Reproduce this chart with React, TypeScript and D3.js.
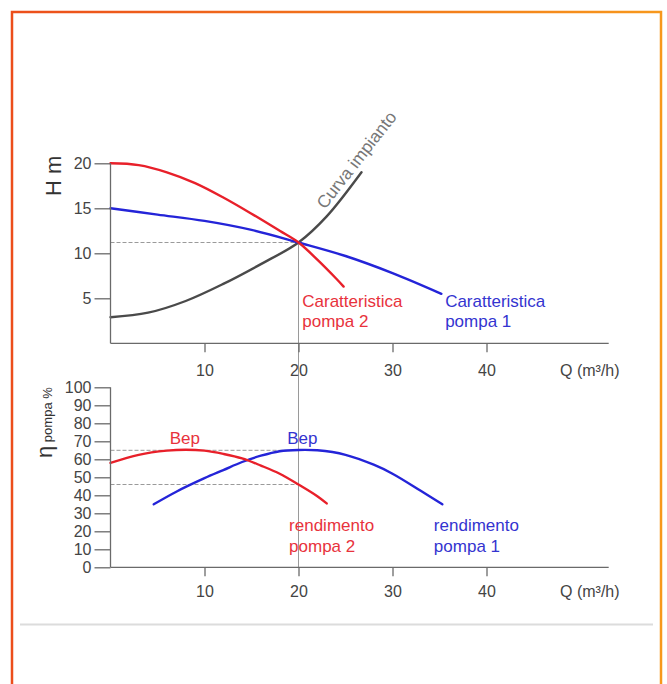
import React, { useEffect, useRef } from "react";
import * as d3 from "d3";

type Pt = [number, number];

// axis ticks
const flowTicks = [10, 20, 30, 40];
const headTicks = [5, 10, 15, 20];
const effTicks = [0, 10, 20, 30, 40, 50, 60, 70, 80, 90, 100];

// H-Q curves (Q m3/h, H m)
const pump2Head: Pt[] = [
  [0, 20], [3, 19.8], [6, 19.0], [9, 17.8], [12, 16.2], [15, 14.4],
  [18, 12.5], [20, 11.2], [22, 9.3], [24, 7.2], [24.8, 6.3],
];
const pump1Head: Pt[] = [
  [0, 15], [5, 14.3], [10, 13.6], [15, 12.6], [20, 11.2], [25, 9.7],
  [30, 7.8], [35.2, 5.5],
];
const systemCurve: Pt[] = [
  [0, 2.9], [4, 3.4], [8, 4.7], [12, 6.6], [16, 8.8], [20, 11.2],
  [23, 14.1], [26.7, 19],
];

// efficiency curves (Q m3/h, eta %)
const pump2Eff: Pt[] = [
  [0, 58], [3, 62.5], [6, 64.8], [8, 65.3], [10, 64.8], [12, 63],
  [14, 60.5], [16, 56.5], [18, 52], [20, 46], [22, 39.5], [23, 35.5],
];
const pump1Eff: Pt[] = [
  [4.6, 35], [7, 42], [10, 49.5], [12, 54], [14, 58.5], [16, 62],
  [18, 64.5], [20, 65.2], [22, 65], [25, 62.5], [28, 57], [30, 52],
  [33, 42.5], [35.3, 35],
];

const operatingQ = 20;
const operatingH = 11.2;
const bepEff = 65;
const pump2EffAtQ = 46;

const RED = "#e8202a";
const BLUE = "#2424d8";
const GRAY = "#4a4a4a";
const FONT = "Liberation Sans, Arial, sans-serif";

const W = 667;
const H = 684;

const App: React.FC = () => {
  const svgRef = useRef<SVGSVGElement>(null);

  useEffect(() => {
    if (!svgRef.current) return;
    const svg = d3.select(svgRef.current);
    svg.selectAll("*").remove();

    // frame
    const defs = svg.append("defs");
    const grad = defs
      .append("linearGradient")
      .attr("id", "frameGrad")
      .attr("x1", "0")
      .attr("x2", "1")
      .attr("y1", "0")
      .attr("y2", "0");
    grad.append("stop").attr("offset", "0").attr("stop-color", "#ec4e1b");
    grad.append("stop").attr("offset", "1").attr("stop-color", "#f7981c");
    svg
      .append("rect")
      .attr("x", 12)
      .attr("y", 12)
      .attr("width", 649)
      .attr("height", 700)
      .attr("fill", "none")
      .attr("stroke", "url(#frameGrad)")
      .attr("stroke-width", 2.5);
    svg
      .append("line")
      .attr("x1", 20)
      .attr("x2", 653)
      .attr("y1", 624.5)
      .attr("y2", 624.5)
      .attr("stroke", "#dcdcdc")
      .attr("stroke-width", 2);

    // scales
    const x = d3.scaleLinear().domain([0, 53]).range([110.5, 608.7]);
    const yH = d3.scaleLinear().domain([0, 20]).range([343.3, 163.3]);
    const yE = d3.scaleLinear().domain([0, 100]).range([567.3, 387.3]);

    // reference lines
    const guide = svg.append("g").attr("stroke", "#9a9a9a").attr("stroke-width", 1);
    [
      [yH(operatingH)],
      [yE(bepEff)],
      [yE(pump2EffAtQ)],
    ].forEach(([yy]) => {
      guide
        .append("line")
        .attr("x1", x(0))
        .attr("x2", x(operatingQ))
        .attr("y1", yy)
        .attr("y2", yy)
        .attr("stroke-dasharray", "4,2");
    });
    guide
      .append("line")
      .attr("x1", x(operatingQ))
      .attr("x2", x(operatingQ))
      .attr("y1", yH(operatingH))
      .attr("y2", yE(0));

    // curves
    const lineH = d3
      .line<Pt>()
      .x((d) => x(d[0]))
      .y((d) => yH(d[1]))
      .curve(d3.curveCatmullRom.alpha(0.5));
    const lineE = d3
      .line<Pt>()
      .x((d) => x(d[0]))
      .y((d) => yE(d[1]))
      .curve(d3.curveCatmullRom.alpha(0.5));

    const curves: [Pt[], string, typeof lineH][] = [
      [systemCurve, GRAY, lineH],
      [pump1Head, BLUE, lineH],
      [pump2Head, RED, lineH],
      [pump1Eff, BLUE, lineE],
      [pump2Eff, RED, lineE],
    ];
    curves.forEach(([data, color, gen]) => {
      svg
        .append("path")
        .attr("d", gen(data) || "")
        .attr("fill", "none")
        .attr("stroke", color)
        .attr("stroke-width", 2.4)
        .attr("stroke-linecap", "round");
    });

    // axes
    const styleAxis = (g: d3.Selection<SVGGElement, unknown, null, undefined>) => {
      g.select(".domain").remove();
      g.selectAll(".tick line").attr("stroke", "#6a6a6a").attr("stroke-width", 1.3);
      g.selectAll("text")
        .attr("fill", "#444")
        .attr("font-size", "16px")
        .attr("font-family", FONT);
    };

    const axisLines = svg.append("g").attr("stroke", "#6a6a6a").attr("stroke-width", 1.3);
    axisLines
      .append("line")
      .attr("x1", x(0))
      .attr("x2", x(0))
      .attr("y1", yH(20))
      .attr("y2", yH(0));
    axisLines
      .append("line")
      .attr("x1", x(0))
      .attr("x2", x(53))
      .attr("y1", yH(0))
      .attr("y2", yH(0));
    axisLines
      .append("line")
      .attr("x1", x(0))
      .attr("x2", x(0))
      .attr("y1", yE(100))
      .attr("y2", yE(0));
    axisLines
      .append("line")
      .attr("x1", x(0))
      .attr("x2", x(53))
      .attr("y1", yE(0))
      .attr("y2", yE(0));

    svg
      .append("g")
      .attr("transform", `translate(${x(0)},0)`)
      .call(d3.axisLeft(yH).tickValues(headTicks).tickSize(16).tickPadding(3))
      .call(styleAxis);
    svg
      .append("g")
      .attr("transform", `translate(0,${yH(0)})`)
      .call(d3.axisBottom(x).tickValues(flowTicks).tickSize(9).tickPadding(12))
      .call(styleAxis);
    svg
      .append("g")
      .attr("transform", `translate(${x(0)},0)`)
      .call(d3.axisLeft(yE).tickValues(effTicks).tickSize(16).tickPadding(3))
      .call(styleAxis);
    svg
      .append("g")
      .attr("transform", `translate(0,${yE(0)})`)
      .call(d3.axisBottom(x).tickValues(flowTicks).tickSize(9).tickPadding(9))
      .call(styleAxis);

    const label = (
      tx: number,
      ty: number,
      text: string,
      color: string,
      size: number,
      rotate = 0
    ) =>
      svg
        .append("text")
        .attr("transform", `translate(${tx},${ty}) rotate(${rotate})`)
        .attr("fill", color)
        .attr("font-size", `${size}px`)
        .attr("font-family", FONT)
        .text(text);

    // axis titles
    label(560, 376, "Q (m³/h)", "#444", 16);
    label(560, 597, "Q (m³/h)", "#444", 16);
    label(61, 196, "H m", "#333", 22, -90);

    const eta = svg
      .append("text")
      .attr("transform", "translate(52,458) rotate(-90)")
      .attr("fill", "#333")
      .attr("font-family", FONT);
    eta.append("tspan").attr("font-size", "22px").text("η");
    eta.append("tspan").attr("font-size", "13px").text(" pompa ");
    eta.append("tspan").attr("font-size", "13px").text("%");

    // curve labels
    label(325, 210, "Curva impianto", "#777", 17.5, -52);
    label(x(20.4), yH(4), "Caratteristica", "#e8323c", 17);
    label(x(20.4), yH(4) + 20, "pompa 2", "#e8323c", 17);
    label(x(35.6), yH(4), "Caratteristica", "#3434d0", 17);
    label(x(35.6), yH(4) + 20, "pompa 1", "#3434d0", 17);

    label(x(6.3), yE(bepEff) - 6, "Bep", "#e8323c", 17);
    label(x(18.8), yE(bepEff) - 6, "Bep", "#3434d0", 17);
    label(x(19), yE(20), "rendimento", "#e8323c", 17);
    label(x(19), yE(20) + 21, "pompa 2", "#e8323c", 17);
    label(x(34.4), yE(20), "rendimento", "#3434d0", 17);
    label(x(34.4), yE(20) + 21, "pompa 1", "#3434d0", 17);
  }, []);

  return (
    <div style={{ position: "absolute", left: 0, top: 0, width: W, height: H, background: "#fff" }}>
      <svg ref={svgRef} width={W} height={H} style={{ display: "block" }} />
    </div>
  );
};

export default App;
